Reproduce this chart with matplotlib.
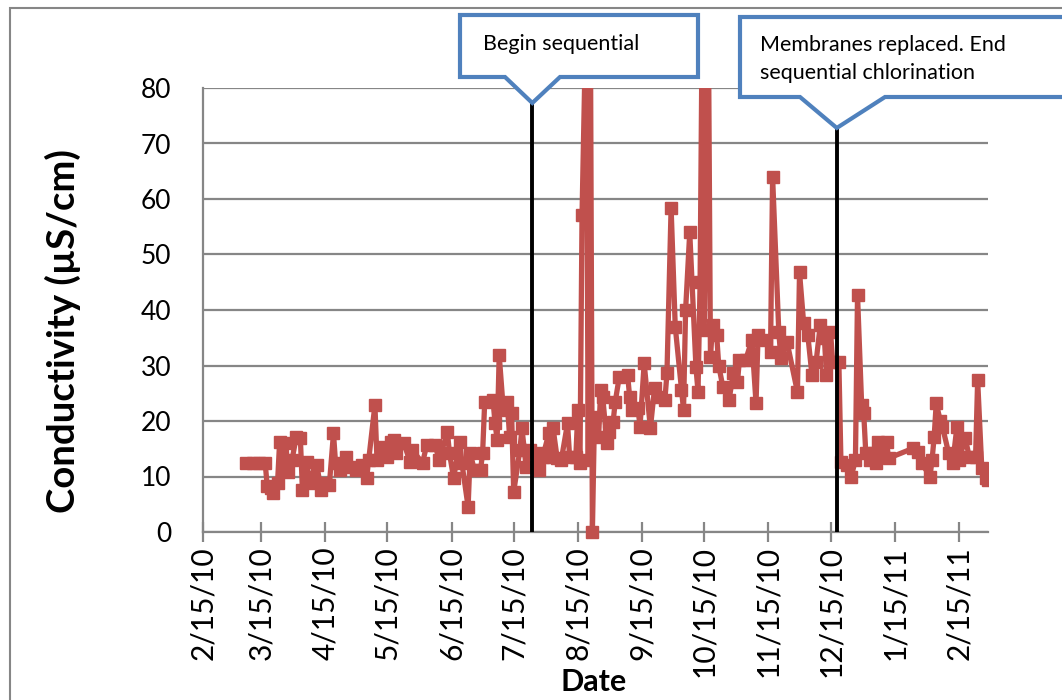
import datetime as dt
import matplotlib
matplotlib.use("Agg")
import matplotlib.pyplot as plt
import matplotlib.dates as mdates
from matplotlib.patches import Rectangle, Polygon
from matplotlib.ticker import FixedLocator, FuncFormatter, MultipleLocator

plt.rcParams['font.family'] = ['Lato', 'DejaVu Sans']

# conductivity readings (uS/cm) by sample date
sample_dates = [
    "2010-03-08", "2010-03-11", "2010-03-14", "2010-03-17", "2010-03-18", "2010-03-20",
    "2010-03-21", "2010-03-23", "2010-03-24", "2010-03-26", "2010-03-27", "2010-03-28",
    "2010-03-30", "2010-04-01", "2010-04-03", "2010-04-04", "2010-04-06", "2010-04-07",
    "2010-04-09", "2010-04-11", "2010-04-13", "2010-04-15", "2010-04-17", "2010-04-19",
    "2010-04-20", "2010-04-22", "2010-04-25", "2010-04-27", "2010-04-30", "2010-05-03",
    "2010-05-05", "2010-05-06", "2010-05-09", "2010-05-10", "2010-05-13", "2010-05-15",
    "2010-05-17", "2010-05-18", "2010-05-19", "2010-05-23", "2010-05-26", "2010-05-27",
    "2010-06-01", "2010-06-03", "2010-06-07", "2010-06-09", "2010-06-13", "2010-06-14",
    "2010-06-16", "2010-06-19", "2010-06-20", "2010-06-23", "2010-06-24", "2010-06-26",
    "2010-06-29", "2010-06-30", "2010-07-01", "2010-07-05", "2010-07-06", "2010-07-07",
    "2010-07-08", "2010-07-10", "2010-07-12", "2010-07-13", "2010-07-14", "2010-07-15",
    "2010-07-18", "2010-07-19", "2010-07-21", "2010-07-23",
    "2010-07-27", "2010-07-28", "2010-07-29", "2010-08-01", "2010-08-02", "2010-08-03",
    "2010-08-05", "2010-08-07", "2010-08-10", "2010-08-11", "2010-08-14", "2010-08-15",
    "2010-08-16", "2010-08-17", "2010-08-19", "2010-08-20", "2010-08-21", "2010-08-22",
    "2010-08-23", "2010-08-25", "2010-08-26", "2010-08-27", "2010-08-29", "2010-08-30",
    "2010-09-01", "2010-09-02", "2010-09-04", "2010-09-08", "2010-09-09", "2010-09-10",
    "2010-09-13", "2010-09-14", "2010-09-16", "2010-09-19", "2010-09-21", "2010-09-23",
    "2010-09-26", "2010-09-27", "2010-09-29", "2010-10-01", "2010-10-04", "2010-10-05",
    "2010-10-06", "2010-10-08", "2010-10-11", "2010-10-12", "2010-10-13", "2010-10-14",
    "2010-10-15", "2010-10-17", "2010-10-18", "2010-10-19", "2010-10-21", "2010-10-22",
    "2010-10-24", "2010-10-27", "2010-10-29", "2010-10-31", "2010-11-01", "2010-11-04",
    "2010-11-07", "2010-11-09", "2010-11-10", "2010-11-14", "2010-11-16", "2010-11-17",
    "2010-11-20", "2010-11-21", "2010-11-24", "2010-11-29", "2010-11-30", "2010-12-02",
    "2010-12-04", "2010-12-06", "2010-12-08", "2010-12-10", "2010-12-12", "2010-12-13",
    "2010-12-15", "2010-12-16", "2010-12-19", "2010-12-20", "2010-12-23", "2010-12-25",
    "2010-12-27", "2010-12-28", "2010-12-30", "2010-12-31", "2011-01-01", "2011-01-03",
    "2011-01-05", "2011-01-06", "2011-01-07", "2011-01-09", "2011-01-11", "2011-01-12",
    "2011-01-24", "2011-01-26", "2011-01-28", "2011-02-01", "2011-02-02", "2011-02-03",
    "2011-02-04", "2011-02-06", "2011-02-07", "2011-02-10", "2011-02-12", "2011-02-14",
    "2011-02-15", "2011-02-18", "2011-02-20", "2011-02-23", "2011-02-24", "2011-02-26",
    "2011-02-28", "2011-03-01",
]
conductivity = [
    12.5, 12.5, 12.5, 12.5, 8.3, 8.0,
    7.0, 8.9, 16.3, 11.0, 16.0, 10.8,
    13.0, 17.1, 17.0, 7.5, 12.6, 10.0,
    8.8, 12.0, 7.5, 8.8, 8.5, 17.8,
    12.4, 11.2, 13.5, 11.7, 11.2, 12.0,
    9.7, 13.0, 22.9, 13.0, 15.3, 13.5,
    16.3, 16.6, 14.2, 16.0, 12.6, 14.8,
    12.4, 15.7, 15.7, 13.0, 18.0, 14.2,
    9.7, 16.3, 12.4, 4.5, 14.2, 11.2,
    11.2, 14.2, 23.4, 23.8, 19.6, 16.6,
    31.9, 22.0, 23.4, 17.1, 21.4, 7.2,
    14.8, 18.7, 11.7, 14.8,
    11.2, 14.2, 13.5, 17.8, 13.5, 18.7,
    13.3, 13.0, 19.6, 13.5, 13.5, 22.0,
    12.4, 57.1, 95.0, 13.0, 95.0, 0.0,
    20.7, 17.1, 25.6, 24.3, 16.0, 18.0,
    19.8, 23.4, 28.0, 28.3, 24.3, 22.0,
    22.3, 19.0, 30.4, 18.7, 25.9, 24.3,
    23.8, 28.6, 58.4, 37.0, 25.6, 22.0,
    40.0, 54.0, 29.7, 25.2, 45.0, 92.0,
    36.4, 92.0, 31.5, 37.3, 35.5, 30.0,
    26.1, 23.8, 28.6, 27.0, 31.0, 31.0,
    34.6, 23.2, 35.5, 34.6, 32.4, 64.0,
    36.0, 31.3, 34.2, 25.2, 46.8, 37.6,
    35.5, 28.3, 30.6, 37.3, 35.0, 28.3,
    36.0, 30.6, 30.6, 12.6, 12.0, 10.0,
    13.0, 42.7, 22.9, 21.4, 14.2, 13.0,
    14.2, 12.4, 16.3, 13.5, 16.3, 13.3,
    15.1, 14.4, 12.4, 10.0, 13.0, 17.1,
    23.2, 20.0, 19.0, 14.2, 12.5, 19.0,
    13.0, 16.9, 13.5, 13.5, 27.4, 11.5,
    9.7, 9.4,
]

# treatment changes marked on the chart
event_dates = ["2010-07-24", "2010-12-18"]
event_tops = [77.3, 72.8]
event_notes = [["Begin sequential"],
               ["Membranes replaced. End", "sequential chlorination"]]

tick_dates = ["2010-02-15", "2010-03-15", "2010-04-15", "2010-05-15", "2010-06-15",
              "2010-07-15", "2010-08-15", "2010-09-15", "2010-10-15", "2010-11-15",
              "2010-12-15", "2011-01-15", "2011-02-15"]
x_start, x_end = "2010-02-15", "2011-03-01"


def to_num(s):
    return mdates.date2num(dt.datetime.strptime(s, "%Y-%m-%d"))


W, H = 1062, 700
fig = plt.figure(figsize=(W / 100, H / 100), dpi=100)
ax = fig.add_axes([203 / W, 1 - 532 / H, (988 - 203) / W, (532 - 88) / H])

red = "#C0504D"
grey = "#868686"
blue = "#4F81BD"

x = [to_num(s) for s in sample_dates]
line, = ax.plot(x, conductivity, color=red, lw=3.8, marker="s", ms=8.5,
                mec=red, mfc=red, zorder=3)
# clip at the top of the plot but let markers at zero show fully
clip = Rectangle((0, -0.05), 1.0, 1.05, transform=ax.transAxes, visible=False)
ax.add_patch(clip)
line.set_clip_path(clip)

ax.set_xlim(to_num(x_start), to_num(x_end))
ax.set_ylim(0, 80)
ax.yaxis.set_major_locator(MultipleLocator(10))
ax.xaxis.set_major_locator(FixedLocator([to_num(s) for s in tick_dates]))
ax.xaxis.set_major_formatter(FuncFormatter(
    lambda v, p: "{d.month}/{d.day}/{d:%y}".format(d=mdates.num2date(v))))

ax.grid(axis="y", color=grey, lw=1.6)
ax.set_axisbelow(True)
for side in ("top", "right"):
    ax.spines[side].set_visible(False)
for side in ("left", "bottom"):
    ax.spines[side].set_color(grey)
    ax.spines[side].set_linewidth(1.6)

ax.tick_params(axis="y", length=0, pad=23, labelsize=19)
ax.tick_params(axis="x", direction="inout", length=14, width=1.6, color=grey,
               pad=3, labelsize=21.5, labelrotation=90)

fig.text(63 / W, 1 - 331 / H, "Conductivity (µS/cm)", rotation=90,
         ha="center", va="center", fontsize=27.5, fontweight="bold")
fig.text(594 / W, 1 - 682 / H, "Date", ha="center", va="center",
         fontsize=22, fontweight="bold")

# vertical event markers
for d, top in zip(event_dates, event_tops):
    ax.vlines(to_num(d), 0, top, color="black", lw=2.8, zorder=4, clip_on=False)

# callout boxes (pixel layout, y measured from top)
boxes = [(460, 15, 698, 77, 505, 560), (740, 17, 1080, 97, 800, 885)]
text_pos = [(483, 44), (760, 45)]
to_fig = fig.transFigure.inverted()
for (l, t, r, b, b0, b1), d, top, note, (tx, ty) in zip(
        boxes, event_dates, event_tops, event_notes, text_pos):
    tip = to_fig.transform(ax.transData.transform((to_num(d), top)))
    pts = [(l, t), (r, t), (r, b), (b1, b)]
    pts = [(px / W, 1 - py / H) for px, py in pts]
    pts += [tuple(tip)]
    pts += [(px / W, 1 - py / H) for px, py in [(b0, b), (l, b)]]
    fig.patches.append(Polygon(pts, closed=True, transform=fig.transFigure,
                               fc="white", ec=blue, lw=3, joinstyle="miter",
                               zorder=10))
    for i, txt in enumerate(note):
        fig.text(tx / W, 1 - (ty + 28 * i) / H, txt, ha="left", va="center",
                 fontsize=15.5, zorder=11)

# outer chart frame
fig.patches.append(Rectangle((10 / W, -0.1), 1.2, 1 - 8 / H + 0.1,
                             transform=fig.transFigure, fill=False,
                             ec=grey, lw=1.5, zorder=0))

fig.savefig("out.png", dpi=100)
